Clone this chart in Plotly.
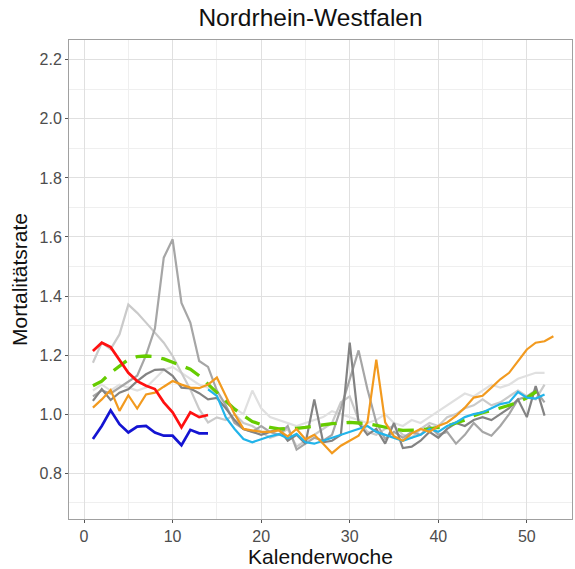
import plotly.graph_objects as go

# Calendar weeks
weeks_52 = list(range(1, 53))
weeks_53 = list(range(1, 54))
weeks_early = list(range(1, 15))
weeks_late = list(range(14, 53))

# Reference years (grey)
grey_dark = [1.045, 1.085, 1.048, 1.073, 1.084, 1.112, 1.135, 1.150, 1.152, 1.130,
             1.090, 1.087, 1.071, 1.050, 1.055, 1.020, 0.980, 0.950, 0.940, 0.930,
             0.940, 0.950, 0.910, 0.930, 0.900, 1.050, 0.905, 0.910, 0.930, 1.242,
             0.970, 0.930, 0.950, 0.900, 0.970, 0.885, 0.890, 0.910, 0.940, 0.920,
             0.950, 0.970, 0.960, 0.980, 0.990, 0.980, 1.000, 1.020, 1.050, 0.990,
             1.095, 0.995]
grey_mid = [1.060, 1.080, 1.070, 1.090, 1.110, 1.130, 1.200, 1.290, 1.530, 1.592,
            1.377, 1.310, 1.180, 1.160, 1.080, 1.030, 0.970, 0.950, 0.940, 0.960,
            0.940, 0.930, 0.960, 0.880, 0.900, 0.920, 0.910, 0.930, 1.020, 1.120,
            1.216, 1.084, 0.972, 0.916, 0.940, 0.920, 0.940, 0.930, 0.960, 0.930,
            0.940, 0.900, 0.930, 0.970, 0.940, 0.927, 0.960, 1.000, 1.050, 1.060,
            1.080, 1.040]
grey_light = [1.174, 1.242, 1.220, 1.270, 1.371, 1.343, 1.310, 1.275, 1.242, 1.197,
              1.140, 1.084, 1.017, 0.972, 0.989, 0.980, 1.000, 0.970, 0.960, 0.940,
              0.920, 0.930, 0.950, 0.890, 0.910, 0.930, 0.950, 0.970, 1.040, 1.060,
              0.980, 0.940, 0.930, 0.950, 0.960, 0.930, 0.920, 0.950, 0.970, 0.960,
              0.990, 1.000, 1.020, 1.030, 1.050, 1.030, 1.040, 1.060, 1.080, 1.060,
              1.050, 1.100]
grey_pale = [1.080, 1.100, 1.080, 1.100, 1.090, 1.080, 1.090, 1.120, 1.150, 1.160,
             1.140, 1.120, 1.100, 1.090, 1.060, 1.040, 1.020, 1.000, 1.080, 1.020,
             0.990, 0.980, 0.970, 0.960, 0.970, 0.980, 0.990, 1.010, 1.000, 0.990,
             0.980, 0.970, 0.980, 1.000, 0.970, 0.960, 0.980, 0.970, 0.990, 1.010,
             1.030, 1.050, 1.070, 1.060, 1.080, 1.100, 1.090, 1.100, 1.120, 1.130,
             1.140, 1.140]

# Mean of reference years (dashed green)
mean_ref = [1.096, 1.112, 1.140, 1.163, 1.185, 1.195, 1.197, 1.195, 1.187, 1.176,
            1.165, 1.152, 1.130, 1.100, 1.073, 1.045, 1.017, 0.995, 0.975, 0.965,
            0.955, 0.950, 0.950, 0.952, 0.955, 0.960, 0.965, 0.968, 0.970, 0.972,
            0.970, 0.968, 0.962, 0.955, 0.950, 0.945, 0.945, 0.947, 0.950, 0.955,
            0.960, 0.970, 0.980, 0.995, 1.005, 1.012, 1.020, 1.030, 1.040, 1.055,
            1.075, 1.090]

# 53-week year (orange)
year_orange = [1.022, 1.050, 1.082, 1.011, 1.064, 1.019, 1.067, 1.073, 1.093, 1.112,
               1.100, 1.090, 1.088, 1.100, 1.124, 1.060, 1.000, 0.950, 0.945, 0.940,
               0.940, 0.945, 0.925, 0.950, 0.915, 0.930, 0.900, 0.868, 0.893, 0.910,
               0.927, 0.972, 1.185, 0.972, 0.925, 0.910, 0.935, 0.950, 0.940, 0.960,
               0.972, 0.994, 1.022, 1.056, 1.062, 1.090, 1.118, 1.140, 1.180, 1.219,
               1.242, 1.247, 1.264]

# Early weeks (red, blue)
year_red = [1.214, 1.242, 1.227, 1.185, 1.140, 1.112, 1.096, 1.085, 1.040, 1.006,
            0.955, 1.006, 0.990, 0.997]
year_blue = [0.916, 0.960, 1.013, 0.966, 0.938, 0.958, 0.960, 0.938, 0.927, 0.927,
             0.895, 0.947, 0.935, 0.935]

# Weeks 14-52 (light blue)
year_cyan = [1.084, 1.062, 0.990, 0.950, 0.916, 0.905, 0.915, 0.925, 0.932, 0.918,
             0.933, 0.905, 0.900, 0.910, 0.920, 0.930, 0.940, 0.950, 0.960, 0.940,
             0.930, 0.920, 0.910, 0.920, 0.930, 0.950, 0.940, 0.960, 0.972, 0.990,
             1.000, 1.006, 1.020, 1.034, 1.040, 1.075, 1.056, 1.053, 1.067]

x_ticks = [0, 10, 20, 30, 40, 50]
y_ticks = [0.8, 1.0, 1.2, 1.4, 1.6, 1.8, 2.0, 2.2]

FONT = "Liberation Sans, Arial, sans-serif"

fig = go.Figure()

def add_line(x, y, color, width=2.2, dash="solid"):
    fig.add_trace(go.Scatter(x=x, y=y, mode="lines", showlegend=False,
                             line=dict(color=color, width=width, dash=dash),
                             hoverinfo="skip"))

add_line(weeks_52, grey_pale, "#e0e0e0")
add_line(weeks_52, grey_light, "#cacaca")
add_line(weeks_52, grey_mid, "#a6a6a6")
add_line(weeks_52, grey_dark, "#838383")
add_line(weeks_52, mean_ref, "#66cc00", width=3.3, dash="16px,10px")
add_line(weeks_late, year_cyan, "#22b4ea", width=2.2)
add_line(weeks_53, year_orange, "#f29a1f", width=2.2)
add_line(weeks_early, year_red, "#ff1010", width=2.7)
add_line(weeks_early, year_blue, "#1414d2", width=2.7)

axis_common = dict(
    showline=True, mirror=True, linecolor="#a0a0a0", linewidth=1,
    ticks="outside", ticklen=3, tickcolor="#555555",
    showgrid=True, gridcolor="#e0e0e0", gridwidth=1,
    zeroline=False,
    tickfont=dict(family=FONT, size=16, color="#4d4d4d"),
    title_font=dict(family=FONT, size=21, color="#111111"),
)

fig.update_xaxes(
    range=[-1.7, 55.1], tickvals=x_ticks,
    minor=dict(tickvals=[5, 15, 25, 35, 45, 55], showgrid=True, gridcolor="#efefef", ticks=""),
    title_text="Kalenderwoche", title_standoff=1,
    **axis_common,
)
fig.update_yaxes(
    range=[0.645, 2.267], tickvals=y_ticks, ticktext=[f"{v:.1f}" for v in y_ticks],
    minor=dict(tickvals=[0.7, 0.9, 1.1, 1.3, 1.5, 1.7, 1.9, 2.1], showgrid=True,
               gridcolor="#efefef", ticks=""),
    title_text="Mortalitätsrate", title_standoff=6,
    **axis_common,
)

fig.update_layout(
    width=575, height=569,
    margin=dict(l=69, r=3, t=40, b=50),
    paper_bgcolor="white", plot_bgcolor="white",
    title=dict(text="Nordrhein-Westfalen", x=0.54, xanchor="center",
               y=1 - 17 / 569, yanchor="middle", yref="container",
               font=dict(family=FONT, size=24.5, color="#111111")),
)

fig.write_html("out.html")
